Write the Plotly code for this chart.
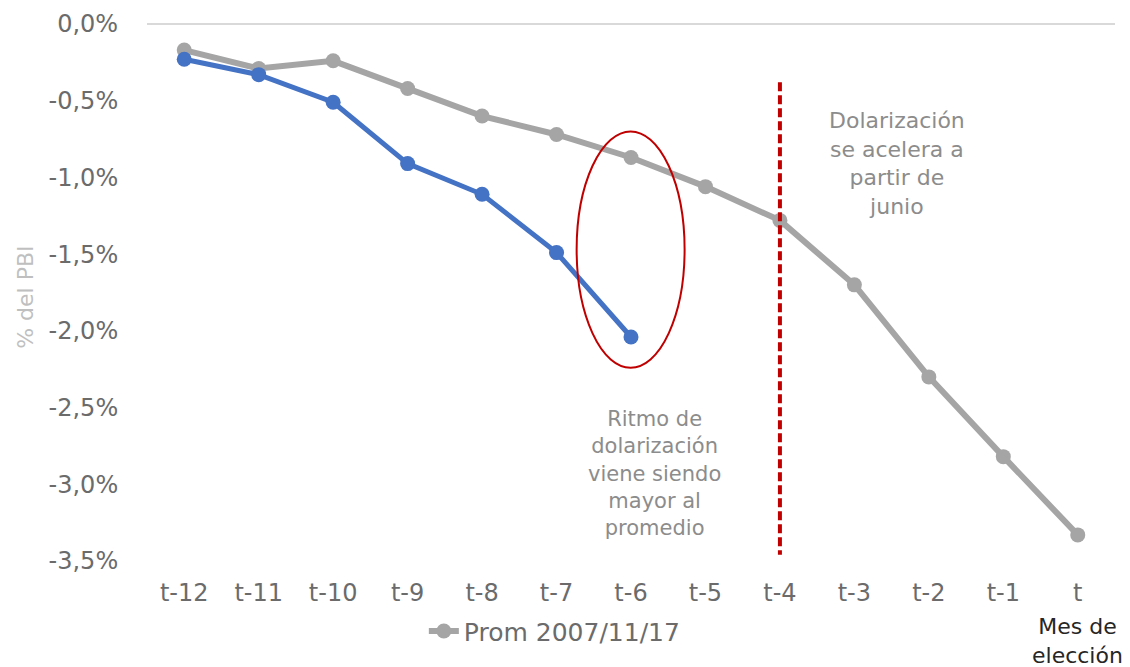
import plotly.graph_objects as go

categories = ["t-12", "t-11", "t-10", "t-9", "t-8", "t-7", "t-6", "t-5", "t-4", "t-3", "t-2", "t-1", "t"]
prom_values = [-0.17, -0.29, -0.24, -0.42, -0.60, -0.72, -0.87, -1.06, -1.28, -1.70, -2.30, -2.82, -3.33]
actual_categories = ["t-12", "t-11", "t-10", "t-9", "t-8", "t-7", "t-6"]
actual_values = [-0.23, -0.33, -0.51, -0.91, -1.11, -1.49, -2.04]
tick_vals = [0, -0.5, -1.0, -1.5, -2.0, -2.5, -3.0, -3.5]
tick_labels = ["0,0%", "-0,5%", "-1,0%", "-1,5%", "-2,0%", "-2,5%", "-3,0%", "-3,5%"]

FONT = "DejaVu Sans"
GRAY_TXT = "#6b6b6b"

fig = go.Figure()
fig.add_trace(go.Scatter(
    x=categories, y=prom_values, mode="lines+markers", name="Prom 2007/11/17",
    line=dict(color="#a5a5a5", width=6), marker=dict(color="#a5a5a5", size=15),
))
fig.add_trace(go.Scatter(
    x=actual_categories, y=actual_values, mode="lines+markers", name="Actual",
    showlegend=False,
    line=dict(color="#4472c4", width=5), marker=dict(color="#4472c4", size=15),
))

# red ellipse around t-6
fig.add_shape(type="circle", xref="x", yref="y", x0=5.27, x1=6.72, y0=-0.70, y1=-2.24,
              line=dict(color="#c00000", width=2))
# dashed vertical line at t-4
fig.add_shape(type="line", xref="x", yref="y", x0=8, x1=8, y0=-0.38, y1=-3.46,
              line=dict(color="#c00000", width=4, dash="9px,4px"))

fig.add_annotation(x=9.57, y=-0.91, xref="x", yref="y", showarrow=False,
                   text="Dolarización<br>se acelera a<br>partir de<br>junio",
                   font=dict(family=FONT, size=22, color="#8c8c8c"), align="center")
fig.add_annotation(x=6.32, y=-2.93, xref="x", yref="y", showarrow=False,
                   text="Ritmo de<br>dolarización<br>viene siendo<br>mayor al<br>promedio",
                   font=dict(family=FONT, size=21, color="#8c8c8c"), align="center")
fig.add_annotation(x=12, y=-0.149, xref="x", yref="paper", showarrow=False,
                   text="Mes de<br>elección", yanchor="middle", xanchor="center",
                   font=dict(family=FONT, size=22, color="#262626"), align="center")
fig.add_annotation(x=-0.125, y=0.49, xref="paper", yref="paper", showarrow=False,
                   text="% del PBI", textangle=-90, xanchor="center", yanchor="middle",
                   font=dict(family=FONT, size=22, color="#bfbfbf"))

# page body adds an 8px offset; compensate so the plot lands where the reference has it
fig.update_layout(
    width=1122, height=659,
    margin=dict(l=139, r=15, t=16, b=106, autoexpand=False),
    paper_bgcolor="white", plot_bgcolor="white",
    font=dict(family=FONT, color=GRAY_TXT),
    showlegend=True,
    legend=dict(orientation="h", x=0.286, xanchor="left", y=-0.088, yanchor="top",
                font=dict(family=FONT, size=25, color=GRAY_TXT)),
)
fig.update_xaxes(type="category", range=[-0.5, 12.5], showgrid=False, showline=False,
                 zeroline=False, ticks="outside", ticklen=10, tickcolor="rgba(0,0,0,0)",
                 automargin=False,
                 tickfont=dict(family=FONT, size=24, color=GRAY_TXT))
fig.update_yaxes(range=[-3.5, 0], tickvals=tick_vals, ticktext=tick_labels,
                 showgrid=False, zeroline=True, zerolinecolor="#d9d9d9", zerolinewidth=2,
                 showline=False, ticks="outside", ticklen=23, tickcolor="rgba(0,0,0,0)",
                 automargin=False,
                 tickfont=dict(family=FONT, size=24, color=GRAY_TXT))

fig.write_html("out.html")
